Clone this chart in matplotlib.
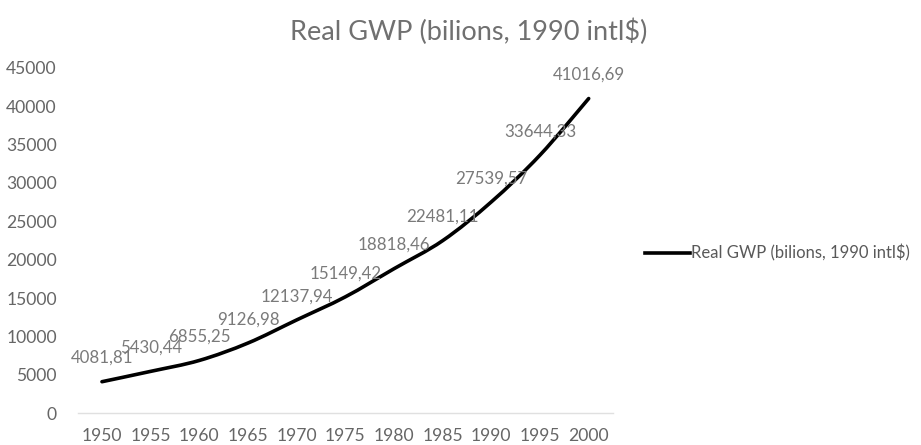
import matplotlib
matplotlib.use("Agg")
import matplotlib.pyplot as plt
from matplotlib.path import Path
from matplotlib.patches import PathPatch
from matplotlib.lines import Line2D
import numpy as np

years = ["1950", "1955", "1960", "1965", "1970", "1975", "1980", "1985", "1990", "1995", "2000"]
gwp = [4081.81, 5430.44, 6855.25, 9126.98, 12137.94, 15149.42, 18818.46, 22481.11, 27539.57, 33644.33, 41016.69]
labels = ["4081,81", "5430,44", "6855,25", "9126,98", "12137,94", "15149,42", "18818,46", "22481,11", "27539,57", "33644,33", "41016,69"]
yticks = [0, 5000, 10000, 15000, 20000, 25000, 30000, 35000, 40000, 45000]
series_name = "Real GWP (bilions, 1990 intl$)"
title = "Real GWP (bilions, 1990 intl$)"

plt.rcParams['font.family'] = ['Lato', 'DejaVu Sans']

fig = plt.figure(figsize=(9.21, 4.45), dpi=100)
ax = fig.add_axes([0.0843, 0.0719, 0.5813, 0.7753])

x = np.arange(len(years), dtype=float)
y = np.array(gwp)

# Smoothed line (Catmull-Rom style Bezier, like a spreadsheet "smoothed line")
verts = [(x[0], y[0])]
codes = [Path.MOVETO]
n = len(x)
t = 1.0 / 6.0
for i in range(n - 1):
    p0 = (x[i - 1], y[i - 1]) if i > 0 else (x[i], y[i])
    p1 = (x[i], y[i])
    p2 = (x[i + 1], y[i + 1])
    p3 = (x[i + 2], y[i + 2]) if i + 2 < n else (x[i + 1], y[i + 1])
    c1 = (p1[0] + (p2[0] - p0[0]) * t, p1[1] + (p2[1] - p0[1]) * t)
    c2 = (p2[0] - (p3[0] - p1[0]) * t, p2[1] - (p3[1] - p1[1]) * t)
    verts += [c1, c2, p2]
    codes += [Path.CURVE4, Path.CURVE4, Path.CURVE4]
patch = PathPatch(Path(verts, codes), facecolor='none', edgecolor='black', lw=2.6,
                  capstyle='round', joinstyle='round', zorder=3)
ax.add_patch(patch)

for xi, yi, lab in zip(x, y, labels):
    ax.annotate(lab, (xi, yi), xytext=(0, 17), textcoords='offset points',
                ha='center', va='center', fontsize=12.2, color='#7a7a7a', zorder=4)

ax.set_xlim(-0.5, len(years) - 0.5)
ax.set_ylim(0, 45000)
ax.set_xticks(x)
ax.set_xticklabels(years)
ax.set_yticks(yticks)
ax.set_yticklabels([str(v) for v in yticks])
ax.tick_params(axis='both', length=0, labelsize=12.6, colors='#666666')
ax.tick_params(axis='y', pad=15)
ax.tick_params(axis='x', pad=11)
for s in ['top', 'right', 'left']:
    ax.spines[s].set_visible(False)
ax.spines['bottom'].set_color('#e0e0e0')
ax.spines['bottom'].set_linewidth(1.0)

fig.text(0.509, 0.928, title, ha='center', va='center', fontsize=19.5, color='#707070')

handle = Line2D([0], [0], color='black', lw=2.6)
fig.legend([handle], [series_name], loc='center left', bbox_to_anchor=(0.700, 0.431),
           frameon=False, fontsize=12.0, labelcolor='#595959', handlelength=2.7,
           handletextpad=0.1, borderaxespad=0, borderpad=0)

fig.savefig("out.png", dpi=100, facecolor='white')
